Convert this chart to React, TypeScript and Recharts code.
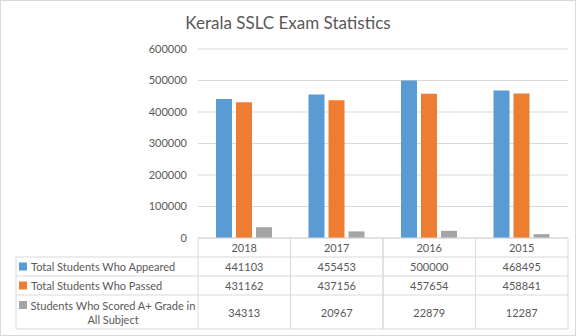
import React from 'react';
import { BarChart, Bar, XAxis, YAxis, CartesianGrid } from 'recharts';

const years = ['2018', '2017', '2016', '2015'];
const appeared = [441103, 455453, 500000, 468495];
const passed = [431162, 437156, 457654, 458841];
const aPlus = [34313, 20967, 22879, 12287];
const yTicks = [0, 100000, 200000, 300000, 400000, 500000, 600000];

const seriesKeys = ['appeared', 'passed', 'aPlus'];
const seriesNames = [
	'Total Students Who Appeared',
	'Total Students Who Passed',
	'Students Who Scored A+ Grade in All Subject',
];
const colorList = ['#5b9bd5', '#ed7d31', '#a5a5a5'];
const seriesValues = [appeared, passed, aPlus];

const data = years.map((year, i) => ({
	year,
	appeared: appeared[i],
	passed: passed[i],
	aPlus: aPlus[i],
}));

const FONT = 'Lato, "Open Sans", sans-serif';
const TEXT = '#595959';
const LINE = '#d9d9d9';
const LEGEND_COL = 182;
// row boundaries under the axis line (header, three series rows)
const rowEdges = [0, 19, 38, 57, 91];

const TableTick = (props: any) => {
	const { x, y, payload, index } = props;
	const band = (props.width || 370) / years.length;
	const left = x - band / 2;
	const right = x + band / 2;
	const cells = seriesValues.map((vals, r) => {
		const top = y + rowEdges[r + 1];
		const bottom = y + rowEdges[r + 2];
		return (
			<text
				key={r}
				x={x}
				y={(top + bottom) / 2}
				textAnchor='middle'
				dominantBaseline='central'
				fontSize={11}
				fontFamily={FONT}
				fill={TEXT}
			>
				{vals[index]}
			</text>
		);
	});
	const lines = [];
	for (let r = 1; r < rowEdges.length; r++) {
		lines.push(
			<line key={'h' + r} x1={left} x2={right} y1={y + rowEdges[r]} y2={y + rowEdges[r]} stroke={LINE} />,
		);
	}
	lines.push(<line key='vl' x1={left} x2={left} y1={y} y2={y + rowEdges[4]} stroke={LINE} />);
	lines.push(<line key='vr' x1={right} x2={right} y1={y} y2={y + rowEdges[4]} stroke={LINE} />);

	let legend = null;
	if (index === 0) {
		const lx = left - LEGEND_COL;
		legend = (
			<g>
				{[1, 2, 3, 4].map((r) => (
					<line key={'lh' + r} x1={lx} x2={left} y1={y + rowEdges[r]} y2={y + rowEdges[r]} stroke={LINE} />
				))}
				<line x1={lx} x2={lx} y1={y + rowEdges[1]} y2={y + rowEdges[4]} stroke={LINE} />
				{seriesNames.map((name, r) => {
					const top = y + rowEdges[r + 1];
					const bottom = y + rowEdges[r + 2];
					const mid = (top + bottom) / 2;
					if (r < 2) {
						return (
							<g key={name}>
								<rect x={lx + 3} y={mid - 4} width={8} height={8} fill={colorList[r]} />
								<text x={lx + 15} y={mid} dominantBaseline='central' fontSize={11} fontFamily={FONT} fill={TEXT}>
									{name}
								</text>
							</g>
						);
					}
					return (
						<g key={name}>
							<rect x={lx + 3} y={mid - 11} width={8} height={8} fill={colorList[r]} />
							<text x={lx + 97} y={mid - 7} textAnchor='middle' dominantBaseline='central' fontSize={11} fontFamily={FONT} fill={TEXT}>
								Students Who Scored A+ Grade in
							</text>
							<text x={lx + 97} y={mid + 7} textAnchor='middle' dominantBaseline='central' fontSize={11} fontFamily={FONT} fill={TEXT}>
								All Subject
							</text>
						</g>
					);
				})}
			</g>
		);
	}

	return (
		<g>
			{lines}
			<text
				x={x}
				y={y + rowEdges[1] / 2}
				textAnchor='middle'
				dominantBaseline='central'
				fontSize={11}
				fontFamily={FONT}
				fill={TEXT}
			>
				{payload.value}
			</text>
			{cells}
			{legend}
		</g>
	);
};

export default function App() {
	return (
		<div style={{ position: 'absolute', left: 0, top: 0, width: 576, height: 336, background: '#fff' }}>
			<BarChart
				width={576}
				height={336}
				data={data}
				margin={{ top: 49, right: 8, left: 138, bottom: 7 }}
				barSize={16}
				barGap={4}
			>
				<CartesianGrid vertical={false} stroke={LINE} />
				<XAxis
					dataKey='year'
					height={91}
					axisLine={{ stroke: LINE }}
					tickLine={false}
					tickSize={0}
					tickMargin={0}
					interval={0}
					tick={<TableTick />}
				/>
				<YAxis
					width={60}
					domain={[0, 600000]}
					ticks={yTicks}
					axisLine={false}
					tickLine={false}
					tickSize={0}
					tickMargin={11}
					tick={{ fontSize: 11, fontFamily: FONT, fill: TEXT }}
				/>
				{seriesKeys.map((k, i) => (
					<Bar key={k} dataKey={k} name={seriesNames[i]} fill={colorList[i]} isAnimationActive={false} />
				))}
			</BarChart>
			<div
				style={{
					position: 'absolute',
					left: 0,
					top: 12,
					width: 576,
					textAlign: 'center',
					fontFamily: FONT,
					fontSize: 17,
					color: TEXT,
				}}
			>
				Kerala SSLC Exam Statistics
			</div>
			<div
				style={{
					position: 'absolute',
					left: 0,
					top: 0,
					width: 576,
					height: 336,
					boxSizing: 'border-box',
					border: '1px solid ' + LINE,
					pointerEvents: 'none',
				}}
			/>
		</div>
	);
}
